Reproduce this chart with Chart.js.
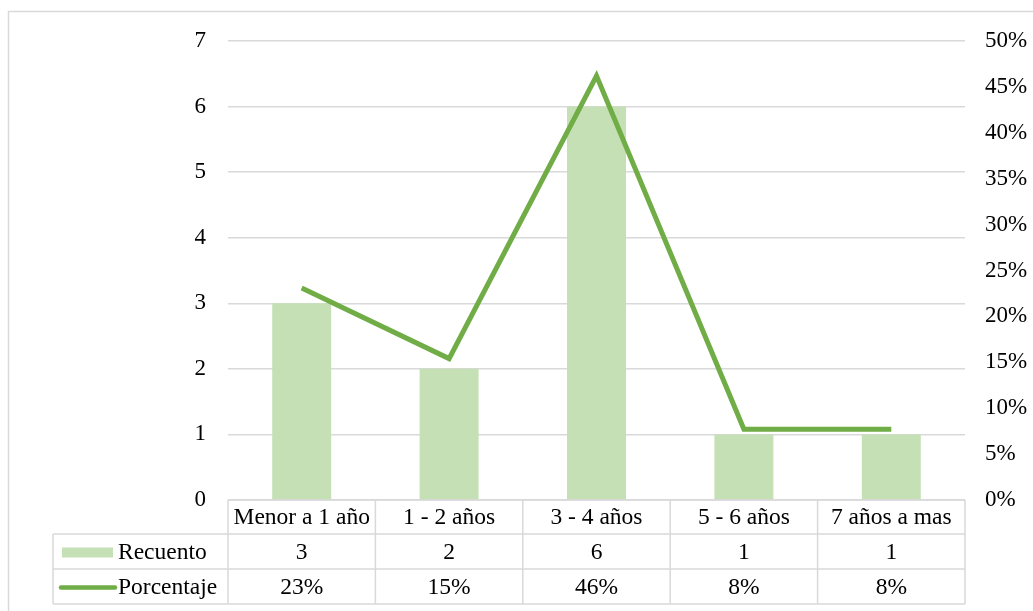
<!DOCTYPE html>
<html lang="es">
<head>
  <meta charset="UTF-8">
  <title>Recuento y porcentaje</title>
  <script src="https://cdn.jsdelivr.net/npm/chart.js"></script>
  <style>
    body {
      margin: 0;
      background-color: #fff;
    }
    #wrap {
      width: 1033px;
      height: 611px;
    }
  </style>
</head>
<body>
  <div id="wrap">
    <canvas id="chart" width="1033" height="611"></canvas>
  </div>

  <script>
    const categories = ['Menor a 1 año', '1 - 2 años', '3 - 4 años', '5 - 6 años', '7 años a mas'];
    const recuento = [3, 2, 6, 1, 1];
    const porcentaje = [23.1, 15.4, 46.2, 7.7, 7.7]; // en %

    const serif = '"Liberation Serif", "Times New Roman", serif';
    const gridColor = '#d9d9d9';
    const barColor = '#c5e0b4';
    const lineColor = '#70ad47';

    // tabla de datos debajo del grafico (estilo Excel)
    const dataTable = {
      id: 'dataTable',
      beforeDraw(chart) {
        const ctx = chart.ctx;
        ctx.save();
        ctx.strokeStyle = gridColor;
        ctx.lineWidth = 1.5;
        ctx.beginPath();
        ctx.moveTo(8.5, 611);
        ctx.lineTo(8.5, 11.5);
        ctx.lineTo(1033, 11.5);
        ctx.stroke();
        ctx.restore();
      },
      afterDraw(chart) {
        const ctx = chart.ctx;
        const area = chart.chartArea;
        const left = area.left, right = area.right;
        const colW = (right - left) / categories.length;
        const rows = [area.bottom, area.bottom + 34, area.bottom + 69, area.bottom + 104];
        const firstX = 53;

        ctx.save();
        ctx.strokeStyle = gridColor;
        ctx.lineWidth = 1.5;
        ctx.beginPath();
        // horizontales
        ctx.moveTo(left, rows[0]); ctx.lineTo(right, rows[0]);
        for (let i = 1; i < rows.length; i++) {
          ctx.moveTo(firstX, rows[i]); ctx.lineTo(right, rows[i]);
        }
        // verticales
        ctx.moveTo(firstX, rows[1]); ctx.lineTo(firstX, rows[3]);
        for (let i = 0; i <= categories.length; i++) {
          const x = left + i * colW;
          ctx.moveTo(x, rows[0]); ctx.lineTo(x, rows[3]);
        }
        ctx.stroke();

        ctx.fillStyle = '#000';
        ctx.font = '23.5px ' + serif;
        ctx.textAlign = 'center';
        ctx.textBaseline = 'middle';
        categories.forEach((c, i) => {
          const cx = left + (i + 0.5) * colW;
          ctx.fillText(c, cx, (rows[0] + rows[1]) / 2 + 1);
          ctx.fillText(String(recuento[i]), cx, (rows[1] + rows[2]) / 2 + 1);
          ctx.fillText(Math.round(porcentaje[i]) + '%', cx, (rows[2] + rows[3]) / 2 + 1);
        });

        // leyenda en la tabla
        const r1 = (rows[1] + rows[2]) / 2;
        const r2 = (rows[2] + rows[3]) / 2;
        ctx.fillStyle = barColor;
        ctx.fillRect(62, r1 - 4, 51, 10);
        ctx.strokeStyle = lineColor;
        ctx.lineWidth = 4.5;
        ctx.lineCap = 'round';
        ctx.beginPath();
        ctx.moveTo(61, r2 + 1); ctx.lineTo(115, r2 + 1);
        ctx.stroke();
        ctx.fillStyle = '#000';
        ctx.textAlign = 'left';
        ctx.fillText('Recuento', 118, r1 + 1);
        ctx.fillText('Porcentaje', 118, r2 + 1);
        ctx.restore();
      }
    };

    new Chart(document.getElementById('chart'), {
      data: {
        labels: categories,
        datasets: [
          {
            type: 'line',
            label: 'Porcentaje',
            data: porcentaje,
            yAxisID: 'y1',
            borderColor: lineColor,
            borderWidth: 5,
            pointRadius: 0,
            tension: 0,
            order: 0
          },
          {
            type: 'bar',
            label: 'Recuento',
            data: recuento,
            yAxisID: 'y',
            backgroundColor: barColor,
            categoryPercentage: 1,
            barPercentage: 0.4,
            order: 1
          }
        ]
      },
      options: {
        responsive: false,
        animation: false,
        layout: {
          padding: { top: 41, bottom: 111, left: 0, right: 0 }
        },
        plugins: {
          legend: { display: false },
          tooltip: { enabled: false }
        },
        scales: {
          x: {
            display: false
          },
          y: {
            position: 'left',
            min: 0,
            max: 7,
            ticks: {
              stepSize: 1,
              padding: 22,
              color: '#000',
              font: { family: serif, size: 23 }
            },
            grid: { color: gridColor, lineWidth: 1.5, drawTicks: false },
            border: { display: false },
            afterFit(scale) { scale.width = 228; }
          },
          y1: {
            position: 'right',
            min: 0,
            max: 50,
            ticks: {
              stepSize: 5,
              padding: 20,
              color: '#000',
              font: { family: serif, size: 23 },
              callback: v => v + '%'
            },
            grid: { drawOnChartArea: false, drawTicks: false },
            border: { display: false },
            afterFit(scale) { scale.width = 68; }
          }
        }
      },
      plugins: [dataTable]
    });
  </script>
</body>
</html>
